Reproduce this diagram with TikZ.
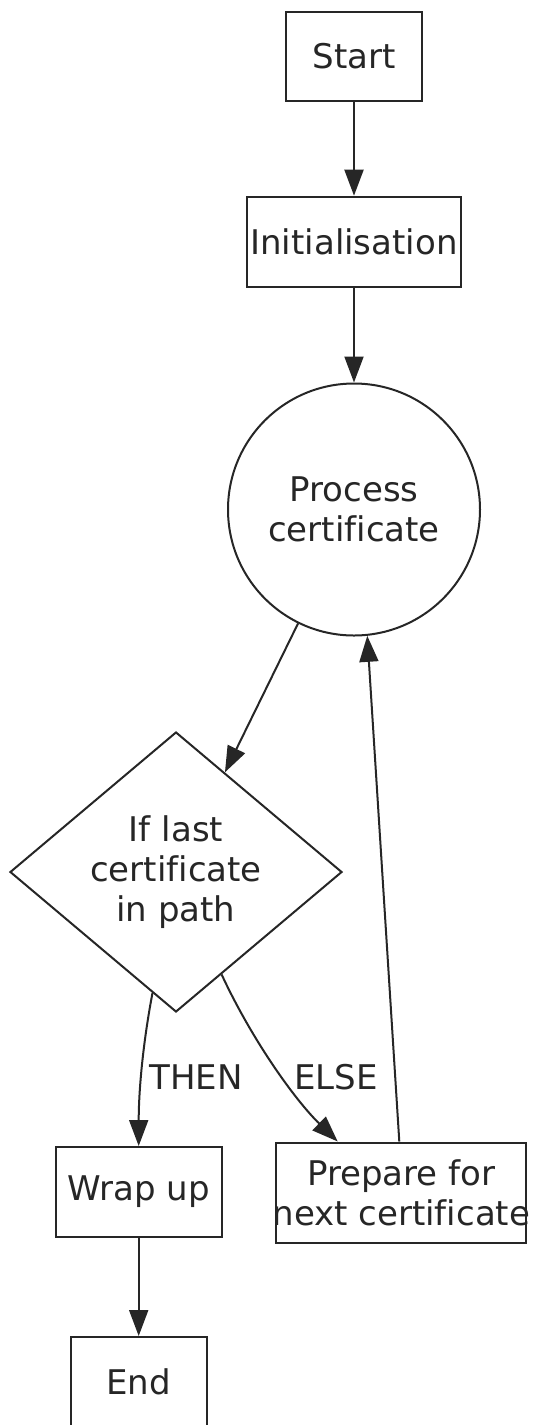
\documentclass[tikz,border=0pt]{standalone}
\usepackage{fontspec}
\setmainfont[Ligatures={NoCommon}]{DejaVu Sans}
\usetikzlibrary{shapes.geometric,arrows.meta}
\newcommand{\zb}[1]{\makebox[0pt]{#1}}
\tikzset{
  base/.style={draw=black!85, text=black!85, line width=2pt, inner sep=0pt, align=center, font=\fontsize{34}{40}\selectfont},
  boxnode/.style={base, rectangle},
  circnode/.style={base, circle, minimum size=252pt},
  dianode/.style={base, diamond, minimum width=332pt, minimum height=280pt},
  conn/.style={draw=black!85, line width=2pt, -{Triangle[length=26pt,width=19pt]}},
  lbl/.style={font=\fontsize{34}{40}\selectfont, text=black!85, inner sep=0pt}
}
\begin{document}
\begin{tikzpicture}[x=1pt,y=-1pt]
\useasboundingbox (0,0) rectangle (534,1425);
\node[boxnode, minimum width=136pt, minimum height=89pt] (start) at (354,56.5) {\zb{Start}};
\node[boxnode, minimum width=214pt, minimum height=90pt] (init) at (354,241.7) {\zb{Initialisation}};
\node[circnode] (proc) at (354,509.5) {\zb{Process}\\\zb{certificate}};
\node[dianode] (dia) at (176,872) {\zb{If last}\\\zb{certificate}\\\zb{in path}};
\node[boxnode, minimum width=166pt, minimum height=90pt] (wrap) at (138.7,1192) {\zb{Wrap up}};
\node[boxnode, minimum width=250pt, minimum height=100pt] (prep) at (401.3,1192.5) {\zb{Prepare for}\\\zb{next certificate}};
\node[boxnode, minimum width=136pt, minimum height=90pt] (end) at (138.7,1382) {\zb{End}};

\draw[conn] (start) -- (init);
\draw[conn] (init) -- (proc);
\draw[conn] (proc) -- (dia);
\draw[conn] (dia.-101.7) .. controls (143,1043) and (138.7,1090) .. (wrap.north);
\draw[conn] (dia.-66.4) .. controls (252,1040) and (295,1100) .. ([xshift=-63.6pt]prep.north);
\draw[conn] ([xshift=-2pt]prep.north) -- (proc.-84);
\draw[conn] (wrap) -- (end);

\node[lbl] (then) at (196,1077) {THEN};
\node[lbl] (else) at (336,1077) {ELSE};
\end{tikzpicture}
\end{document}
